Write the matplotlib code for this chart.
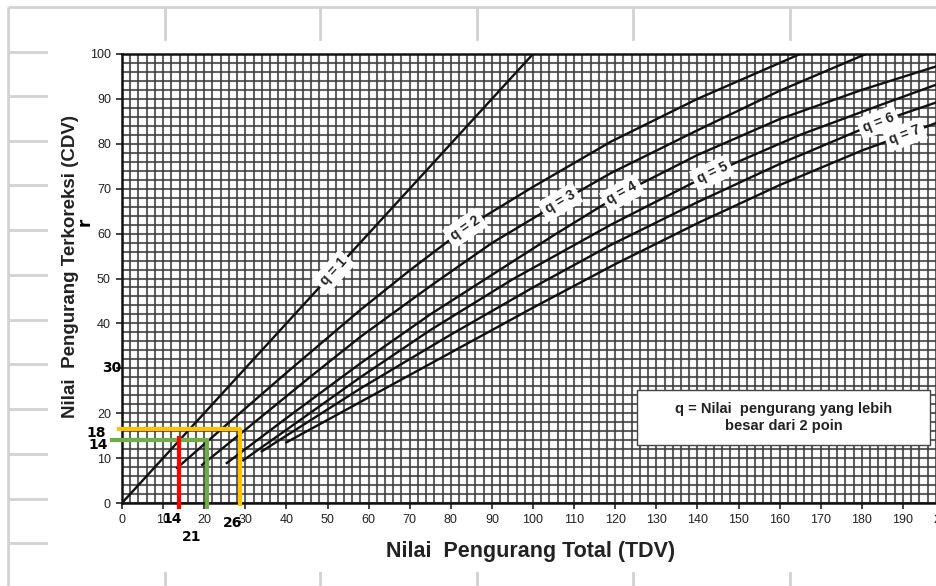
import numpy as np
import matplotlib.pyplot as plt
from matplotlib.patches import Rectangle

# curves (TDV -> CDV), one pair per q
q1_x = [0, 100]
q1_y = [0, 100]
q2_x = [13.4, 25, 40, 58, 70, 83.5, 100, 119, 140, 165]
q2_y = [7.8, 17.1, 29.0, 43.0, 51.8, 61.2, 70.4, 80.5, 90.0, 100]
q3_x = [19.5, 30, 45, 58, 75, 90, 106.6, 119, 140, 160, 181]
q3_y = [8.5, 16.3, 27.5, 37, 48.3, 57.9, 67.0, 73.5, 83.0, 91.8, 100]
q4_x = [25.5, 40, 58, 75, 90, 105, 121.7, 140, 160, 180, 200]
q4_y = [8.9, 18.9, 31.1, 42.0, 50.8, 59.6, 69.0, 77.5, 85.5, 92.0, 97.8]
q5_x = [29.5, 40, 58, 75, 95, 119, 143.6, 165, 185, 200]
q5_y = [9.5, 16.3, 28, 38.5, 49.8, 62, 73.5, 82, 88.8, 93.8]
q6_x = [34, 58, 80, 100, 119, 140, 160, 184, 200]
q6_y = [11.5, 25.5, 37.5, 48, 57.5, 67, 75.5, 84.8, 89.8]
q7_x = [40, 58, 80, 100, 120, 140, 160, 180, 190.5, 200]
q7_y = [13.5, 22.5, 33.5, 43.5, 53.2, 62.3, 70.8, 78.5, 82, 85.3]

curves_x = [q1_x, q2_x, q3_x, q4_x, q5_x, q6_x, q7_x]
curves_y = [q1_y, q2_y, q3_y, q4_y, q5_y, q6_y, q7_y]
q_names = ["q = 1", "q = 2", "q = 3", "q = 4", "q = 5", "q = 6", "q = 7"]
q_label_at = [51.5, 83.5, 106.6, 121.7, 143.6, 184, 190.5]

x_ticks = list(range(0, 201, 10))
y_ticks = list(range(0, 101, 10))
y_tick_text = ["0", "10", "20", "", "40", "50", "60", "70", "80", "90", "100"]

# coloured reading lines drawn over the chart
yellow_tdv, yellow_cdv = 28.7, 16.5
green_tdv, green_cdv = 20.7, 14.0
red_tdv, red_cdv = 13.9, 14.5

note_text = "q = Nilai  pengurang yang lebih\nbesar dari 2 poin"

# spreadsheet cell borders behind the pasted picture (pixels)
sheet_cols = [8, 165, 320, 477, 633, 790]
sheet_rows = [7, 52, 96, 141, 185, 230, 275, 320, 364, 409, 454, 499, 543]

W, H = 936, 586
fig = plt.figure(figsize=(W / 100, H / 100), dpi=100)


def fx(px):
    return px / W


def fy(py):
    return 1 - py / H


bg = fig.add_axes([0, 0, 1, 1], zorder=0)
bg.set_xlim(0, W)
bg.set_ylim(H, 0)
bg.axis("off")
bg.vlines(sheet_cols, 7, H, color="#d2d2d2", lw=2, zorder=1)
bg.hlines(sheet_rows, 8, W, color="#d2d2d2", lw=2, zorder=1)
bg.add_patch(Rectangle((48, 41), W - 48, 531, facecolor="white",
                       edgecolor="none", zorder=5))

# chart axes: x=0 at px 122, 4.11 px per unit; y=0 at py 503, y=100 at py 54
ax = fig.add_axes([fx(122), fy(503), 822 / W, 449 / H], zorder=1)
ax.set_xlim(0, 200)
ax.set_ylim(0, 100)
ax.set_xticks(x_ticks)
ax.set_yticks(y_ticks)
ax.set_yticklabels(y_tick_text)
ax.set_xticks(np.arange(0, 201, 2), minor=True)
ax.set_yticks(np.arange(0, 101, 2), minor=True)
ax.grid(which="both", color="#3a3a3a", lw=1.5, alpha=0.8)
ax.set_axisbelow(True)
ax.tick_params(which="minor", length=0)
ax.tick_params(which="major", length=4, width=1.2, color="#222", labelsize=9,
               labelcolor="#222", pad=4)
for lbl in ax.get_xticklabels() + ax.get_yticklabels():
    lbl.set_family("Liberation Sans")
for s in ax.spines.values():
    s.set_linewidth(1.8)
    s.set_color("#111")

for cx, cy in zip(curves_x, curves_y):
    ax.plot(cx, cy, color="#111", lw=1.7, zorder=3)

for cx, cy, name, at in zip(curves_x, curves_y, q_names, q_label_at):
    yv = np.interp(at, cx, cy)
    p1 = ax.transData.transform((at - 3, np.interp(at - 3, cx, cy)))
    p2 = ax.transData.transform((at + 3, np.interp(at + 3, cx, cy)))
    ang = np.degrees(np.arctan2(p2[1] - p1[1], p2[0] - p1[0]))
    ax.text(at, yv, name, rotation=ang, rotation_mode="anchor", ha="center",
            va="center", fontsize=10, fontweight="bold", color="#222",
            family="Liberation Sans", zorder=5,
            bbox=dict(boxstyle="square,pad=0.3", fc="white", ec="none"))

ax.add_patch(Rectangle((125.3, 12.9), 71.3, 12.3, facecolor="white",
                       edgecolor="#444", lw=1, zorder=4))
ax.text(161, 19.0, note_text, ha="center", va="center", fontsize=10.5,
        fontweight="bold", color="#222", family="Liberation Sans",
        linespacing=1.3, zorder=5)

# reading guides
ax.plot([-0.7, yellow_tdv, yellow_tdv], [yellow_cdv, yellow_cdv, -0.2],
        color="#ffc000", lw=3, clip_on=False, zorder=6)
ax.plot([-2.4, green_tdv, green_tdv], [green_cdv, green_cdv, -0.9],
        color="#70ad47", lw=3, clip_on=False, zorder=6)
ax.plot([red_tdv, red_tdv], [red_cdv, -0.9], color="#ff0000", lw=3,
        clip_on=False, zorder=7)

fig.text(fx(531), fy(552), "Nilai  Pengurang Total (TDV)", ha="center",
         va="center", fontsize=15.5, fontweight="bold", color="#222",
         family="Liberation Sans")
fig.text(fx(71), fy(266), "Nilai  Pengurang Terkoreksi (CDV)", ha="center",
         va="center", rotation=90, fontsize=13.5, fontweight="bold",
         color="#222", family="Liberation Sans")

# typed numbers added on top of the scan
marks = [("18", 96, 433), ("14", 98, 445), ("14", 172, 519), ("21", 192, 537),
         ("26", 233, 523), ("30", 112, 368)]
for txt, px, py in marks:
    fig.text(fx(px), fy(py), txt, ha="center", va="center", fontsize=10,
             fontweight="bold", color="black", family="DejaVu Sans", zorder=10)
fig.text(fx(85), fy(222), "r", ha="center", va="center", rotation=90,
         fontsize=12, fontweight="bold", color="black", zorder=10)

fig.savefig("out.png", dpi=100)
